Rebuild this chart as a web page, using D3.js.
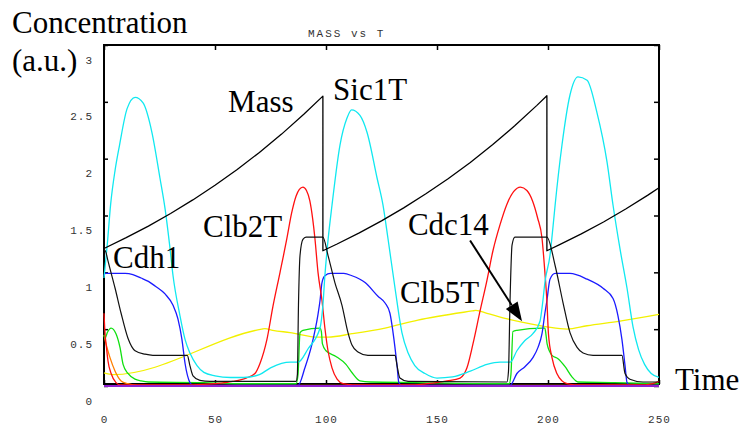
<!DOCTYPE html>
<html>
<head>
<meta charset="utf-8">
<script src="https://cdn.jsdelivr.net/npm/d3@7"></script>
<style>
  html, body { margin: 0; padding: 0; background: #fff; }
  svg { display: block; }
</style>
</head>
<body>
<svg id="chart" width="740" height="425"></svg>
<script>
// Time axis and concentration axis ticks
const xTicks = [0, 50, 100, 150, 200, 250];
const yTicks = [0, 0.5, 1, 1.5, 2, 2.5, 3];

// Simulated time courses: [time, concentration]
const massPts = [
  [0, 1.21], [10, 1.305], [20, 1.407], [30, 1.518], [40, 1.637], [50, 1.766],
  [60, 1.905], [70, 2.055], [80, 2.216], [90, 2.39], [98.6, 2.55],
  [98.6, 1.19], [105, 1.249], [115, 1.347], [125, 1.453], [135, 1.567],
  [145, 1.691], [155, 1.824], [165, 1.967], [175, 2.122], [185, 2.289],
  [195, 2.469], [199.5, 2.554],
  [199.5, 1.19], [205, 1.241], [215, 1.338], [225, 1.443], [235, 1.557],
  [245, 1.679], [250, 1.744]
];

const sic1tPts = [
  [0, 0.95], [1.5, 1.25], [3, 1.6], [5, 1.9], [7, 2.12], [10.4, 2.44], [14, 2.54],
  [17.6, 2.49], [21.6, 2.23], [25.2, 1.83], [27.5, 1.56], [29.5, 1.25], [31.1, 0.97],
  [34.2, 0.62], [36.5, 0.41], [38.7, 0.29], [41.9, 0.18], [45, 0.12], [50, 0.09],
  [57, 0.075], [63, 0.075], [70, 0.1], [75, 0.16], [80, 0.2], [84, 0.21], [87.4, 0.21],
  [92, 0.33], [97.3, 0.51], [98.6, 0.71], [99.5, 0.97], [100.9, 1.28], [102.7, 1.59],
  [106.3, 2.12], [109.5, 2.36], [111.5, 2.43], [115.3, 2.38], [118.5, 2.23], [123, 1.83],
  [125.7, 1.59], [127.9, 1.3], [131.1, 0.86], [134.2, 0.47], [137, 0.29], [140, 0.18],
  [144.6, 0.11], [150, 0.07], [157, 0.08], [165, 0.13], [172.5, 0.19], [178.4, 0.21],
  [183, 0.21], [186, 0.31], [189.6, 0.4], [193.2, 0.46], [196.4, 0.57], [197.7, 0.75],
  [198.6, 0.91], [200.9, 1.15], [202.3, 1.41], [203.2, 1.59], [206.3, 2.12], [209.9, 2.56],
  [213.5, 2.72], [217.6, 2.69], [222, 2.41], [226.6, 1.97], [229.3, 1.59], [232.4, 1.21],
  [235.6, 0.86], [238.3, 0.52], [240.8, 0.32], [243.5, 0.19], [246.5, 0.11], [250, 0.075]
];

const clb2tPts = [
  [0, 0.64], [0.5, 0.45], [1, 0.36], [1.8, 0.22], [3.2, 0.11], [5.4, 0.03], [7.2, 0.01],
  [40, 0.01], [50, 0.02], [58, 0.04], [64, 0.07], [68, 0.11], [70.3, 0.2], [73.4, 0.41],
  [76.1, 0.7], [79.3, 1.0], [82.4, 1.3], [84.5, 1.52], [86.5, 1.67], [88, 1.73],
  [89.6, 1.75], [91.2, 1.72], [92.7, 1.63], [94, 1.47], [95, 1.3], [96.4, 1.0],
  [98.2, 0.75], [99.5, 0.51], [100.9, 0.31], [102.7, 0.16], [105, 0.06], [107.7, 0.02],
  [112, 0.01], [140, 0.01], [145.5, 0.02], [154.5, 0.045], [160.4, 0.07], [163.5, 0.16],
  [166.2, 0.37], [169.4, 0.66], [172.5, 0.93], [175.2, 1.19], [178.4, 1.42], [181.5, 1.6],
  [184.5, 1.71], [187.6, 1.75], [190.5, 1.72], [193, 1.63], [195.3, 1.48], [197.3, 1.3],
  [198.6, 1.0], [199.5, 0.75], [200.2, 0.46], [201.8, 0.25], [204, 0.11], [206.3, 0.045],
  [208.6, 0.02], [212, 0.01], [244, 0.01], [247, 0.02], [250, 0.04]
];

const cdh1Pts = [
  [0, 1.2], [0.8, 1.18], [1.8, 1.1], [5, 0.86], [7.7, 0.64], [10.8, 0.42], [14, 0.31],
  [18.5, 0.28], [22, 0.27], [37.5, 0.27], [38.7, 0.18], [40.1, 0.09], [43.2, 0.05],
  [47.7, 0.04], [86.5, 0.04], [87.1, 0.1], [87.6, 0.71], [88.3, 1.15], [89.6, 1.29],
  [91, 1.31], [98.6, 1.31], [100.9, 1.15], [104, 0.91], [107.2, 0.71], [109.9, 0.47],
  [111.7, 0.36], [114.4, 0.3], [118.9, 0.27], [131.1, 0.27], [132, 0.18], [133.3, 0.07],
  [137, 0.04], [181.5, 0.035], [182.2, 0.13], [182.9, 0.75], [183.8, 1.24], [185.1, 1.31],
  [199.5, 1.31], [203.2, 1.06], [206.8, 0.73], [209.9, 0.47], [213.1, 0.34], [215.8, 0.29],
  [220.3, 0.27], [233.3, 0.27], [234.7, 0.11], [236.9, 0.06], [242.8, 0.035], [250, 0.035]
];

const bluePts = [
  [0, 0.97], [0.5, 0.99], [9.5, 0.99], [13, 0.98], [16.7, 0.95], [20, 0.92], [23, 0.88],
  [27.5, 0.81], [31.1, 0.71], [33.3, 0.59], [35.1, 0.41], [36.5, 0.2], [38.7, 0.03],
  [40, 0.005], [87.4, 0.005], [90.5, 0.16], [93.7, 0.37], [96.4, 0.63], [97.3, 0.75],
  [98.2, 0.91], [99.5, 0.97], [102, 0.99], [108, 0.99], [111.7, 0.97], [117.6, 0.91],
  [123.4, 0.79], [126.6, 0.73], [128.8, 0.64], [130.2, 0.47], [132, 0.18], [132.8, 0.03],
  [134, 0.005], [182.9, 0.005], [186, 0.11], [189.6, 0.17], [193.2, 0.25], [195.5, 0.34],
  [197.3, 0.46], [198.6, 0.64], [199.5, 0.75], [200.9, 0.94], [203.2, 0.99], [209.9, 0.99],
  [217.6, 0.94], [224.8, 0.86], [229.3, 0.77], [231.5, 0.62], [233.3, 0.41], [234.7, 0.18],
  [235.6, 0.03], [237, 0.005], [250, 0.005]
];

const greenPts = [
  [0, 0.45], [0.5, 0.42], [1.5, 0.47], [3.2, 0.51], [5.4, 0.46], [7.2, 0.34], [8.6, 0.19],
  [10.8, 0.11], [14, 0.06], [16.7, 0.045], [20, 0.035], [45, 0.03], [60, 0.02],
  [86.5, 0.02], [87.4, 0.1], [88.3, 0.47], [89.6, 0.49], [97.3, 0.51], [97.9, 0.48],
  [98.4, 0.37], [100, 0.31], [104.5, 0.26], [109, 0.19], [112, 0.11], [115.3, 0.045],
  [120, 0.035], [140, 0.03], [182.5, 0.02], [183.3, 0.1], [184.2, 0.48], [186, 0.49],
  [197.3, 0.51], [198.6, 0.51], [199.1, 0.45], [199.6, 0.37], [201.8, 0.27], [204.5, 0.24],
  [207.7, 0.17], [210.8, 0.08], [213.5, 0.035], [230, 0.03], [250, 0.02]
];

const yellowPts = [
  [0, 0.115], [4, 0.1], [71, 0.5], [72.5, 0.505], [76, 0.49], [83.8, 0.47], [96.4, 0.43],
  [100.9, 0.43], [111.7, 0.46], [126.6, 0.51], [141.4, 0.58], [165.8, 0.66], [167.5, 0.665],
  [172.5, 0.64], [179.7, 0.6], [188.7, 0.56], [199.5, 0.52], [208.6, 0.5], [217.6, 0.53],
  [232.4, 0.57], [250, 0.63]
];

const orangePts = [
  [0, 0.45], [0.9, 0.37], [2.7, 0.25], [5, 0.13], [7.7, 0.045], [10.8, 0.02], [15, 0.005],
  [250, 0.005]
];

const purplePts = [[0, 0], [250, 0]];

const svg = d3.select("#chart");
const x = d3.scaleLinear().domain([0, 250]).range([104, 659]);
const y = d3.scaleLinear().domain([0, 3]).range([386, 45]);

const tickFont = g => g.selectAll("text")
  .attr("font-family", "'Liberation Mono', 'DejaVu Sans Mono', monospace")
  .attr("font-size", 11)
  .attr("letter-spacing", 1)
  .attr("fill", "#333");

// Frame
svg.append("rect")
  .attr("x", 104).attr("y", 45).attr("width", 555).attr("height", 339)
  .attr("fill", "none").attr("stroke", "#000").attr("stroke-width", 2);

// Left axis: inward ticks, labels set slightly below their ticks
svg.append("g")
  .attr("transform", "translate(104,0)")
  .call(d3.axisLeft(y).tickValues(yTicks).tickSizeInner(-4).tickSizeOuter(0)
    .tickPadding(11).tickFormat(d => String(d)))
  .call(g => g.select(".domain").remove())
  .call(g => g.selectAll("line").attr("stroke-width", 1.5))
  .call(tickFont)
  .call(g => g.selectAll("text").attr("dy", "18px"));

// Bottom axis
svg.append("g")
  .attr("transform", "translate(0,384)")
  .call(d3.axisBottom(x).tickValues(xTicks).tickSizeInner(-4).tickSizeOuter(0)
    .tickFormat(d => String(d)))
  .call(g => g.select(".domain").remove())
  .call(g => g.selectAll("line").attr("stroke-width", 1.5))
  .call(tickFont)
  .call(g => g.selectAll("text").attr("y", 39).attr("dy", 0));

// Top and right axes: ticks only
svg.append("g")
  .attr("transform", "translate(0,45)")
  .call(d3.axisTop(x).tickValues(xTicks).tickSizeInner(-5).tickSizeOuter(0).tickFormat(""))
  .call(g => g.select(".domain").remove())
  .call(g => g.selectAll("line").attr("stroke-width", 1.5));

svg.append("g")
  .attr("transform", "translate(659,0)")
  .call(d3.axisRight(y).tickValues(yTicks).tickSizeInner(-5).tickSizeOuter(0).tickFormat(""))
  .call(g => g.select(".domain").remove())
  .call(g => g.selectAll("line").attr("stroke-width", 1.5));

// Curves
const smooth = d3.line().x(d => x(d[0])).y(d => y(d[1])).curve(d3.curveMonotoneX);
const straight = d3.line().x(d => x(d[0])).y(d => y(d[1]));

const series = [
  { pts: yellowPts, color: "#f2f000", gen: smooth, w: 1.3 },
  { pts: orangePts, color: "#ff7f00", gen: smooth, w: 1.3 },
  { pts: greenPts, color: "#10e010", gen: smooth, w: 1.3 },
  { pts: bluePts, color: "#1a1aff", gen: smooth, w: 1.3 },
  { pts: clb2tPts, color: "#ff1010", gen: smooth, w: 1.3 },
  { pts: sic1tPts, color: "#10e8f0", gen: smooth, w: 1.3 },
  { pts: cdh1Pts, color: "#111", gen: smooth, w: 1.2 },
  { pts: massPts, color: "#000", gen: straight, w: 1.3 },
  { pts: purplePts, color: "#9020d0", gen: straight, w: 2 }
];

svg.append("g").selectAll("path")
  .data(series)
  .join("path")
  .attr("d", s => s.gen(s.pts))
  .attr("fill", "none")
  .attr("stroke", s => s.color)
  .attr("stroke-width", s => s.w)
  .attr("stroke-linejoin", "round");

// Title
svg.append("text")
  .attr("x", 308).attr("y", 37)
  .attr("font-family", "'Liberation Mono', 'DejaVu Sans Mono', monospace")
  .attr("font-size", 11)
  .attr("letter-spacing", 2)
  .attr("fill", "#333")
  .text("MASS vs T");

// Axis titles
const serif = "'Liberation Serif', Tinos, 'Times New Roman', Times, serif";
const bigText = (tx, ty, s) => svg.append("text")
  .attr("x", tx).attr("y", ty)
  .attr("font-family", serif).attr("font-size", 31).attr("fill", "#000")
  .text(s);

bigText(12, 33, "Concentration");
bigText(12, 71, "(a.u.)");
bigText(675, 390, "Time");

// Curve labels, anchored in data space
const curveLabels = [
  { text: "Mass", t: 55.9, v: 2.41 },
  { text: "Sic1T", t: 103.2, v: 2.52 },
  { text: "Clb2T", t: 44.6, v: 1.31 },
  { text: "Cdh1", t: 4.05, v: 1.04 },
  { text: "Cdc14", t: 136.9, v: 1.33 },
  { text: "Clb5T", t: 133.3, v: 0.73 }
];
curveLabels.forEach(l => bigText(x(l.t), y(l.v), l.text));

// Arrow pointing at Cdc14
const a0 = [x(164.9), y(1.28)];
const a1 = [x(188.3), y(0.57)];
const dx = a1[0] - a0[0], dy = a1[1] - a0[1];
const len = Math.hypot(dx, dy);
const ux = dx / len, uy = dy / len;
const headLen = 19, headHalf = 7;
const bx = a1[0] - ux * headLen, by = a1[1] - uy * headLen;
svg.append("line")
  .attr("x1", a0[0]).attr("y1", a0[1]).attr("x2", bx).attr("y2", by)
  .attr("stroke", "#000").attr("stroke-width", 2);
svg.append("path")
  .attr("d", `M${a1[0]},${a1[1]} L${bx - uy * headHalf},${by + ux * headHalf} L${bx + uy * headHalf},${by - ux * headHalf} Z`)
  .attr("fill", "#000");
</script>
</body>
</html>
